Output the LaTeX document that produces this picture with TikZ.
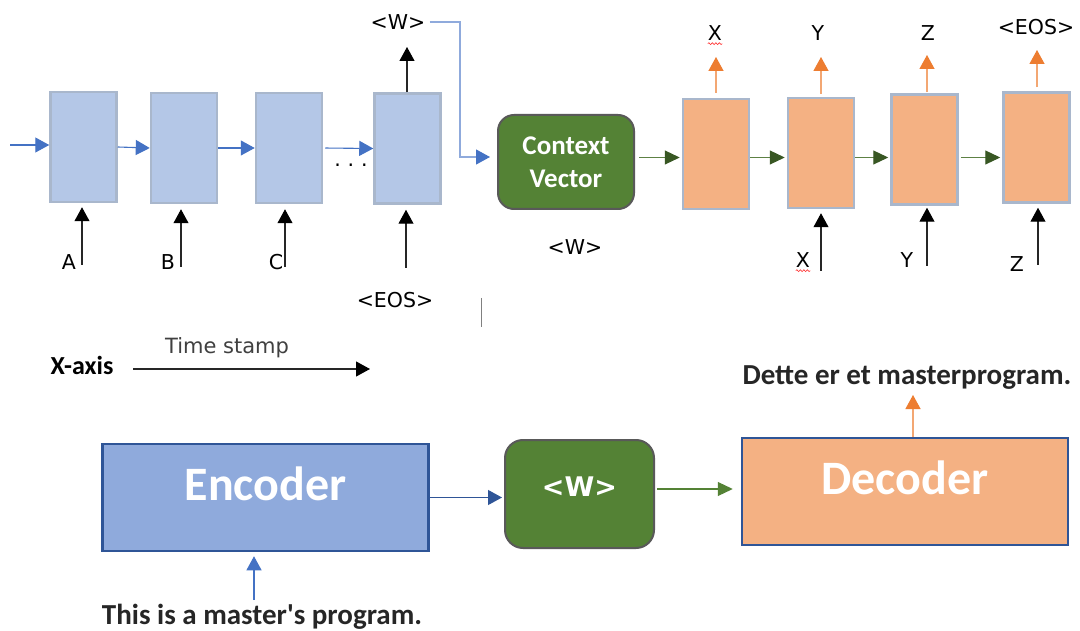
\documentclass[tikz,border=0pt]{standalone}
\usepackage{fontspec}
\setmainfont{Carlito}[Ligatures=TeXOff]
\newfontfamily\labfont{DejaVu Sans}
\usetikzlibrary{arrows.meta,decorations.pathmorphing}
\definecolor{encfill}{HTML}{B4C7E7}
\definecolor{cellbord}{HTML}{A9B7CC}
\definecolor{decfill}{HTML}{F4B183}
\definecolor{blueA}{HTML}{4472C4}
\definecolor{blueL}{HTML}{8FAADC}
\definecolor{blueD}{HTML}{2F5597}
\definecolor{greenF}{HTML}{548235}
\definecolor{greenD}{HTML}{385723}
\definecolor{orangeA}{HTML}{ED7D31}
\definecolor{orangeL}{HTML}{F4B183}
\definecolor{boxgray}{HTML}{595959}
\definecolor{txtdark}{HTML}{262626}
\definecolor{tsgray}{HTML}{404040}
\begin{document}
\begin{tikzpicture}[x=1pt,y=-1pt,
  cell/.style={draw=cellbord, line width=2.5pt, minimum width=66pt, minimum height=110pt, inner sep=0pt},
  enccell/.style={cell, fill=encfill},
  deccell/.style={cell, fill=decfill},
  rbox/.style={draw=boxgray, line width=2pt, fill=greenF, inner sep=0pt, text=white},
  bigbox/.style={draw=blueD, line width=2.5pt, inner sep=0pt, text=white,
    minimum width=326pt, minimum height=107pt, text height=33pt, text depth=27pt,
    font=\fontsize{48}{56}\selectfont\bfseries},
  lbl/.style={inner sep=0pt, font=\labfont\fontsize{20.5}{25}\selectfont, text=black},
  boldtxt/.style={inner sep=0pt, font=\fontsize{29}{34}\selectfont\bfseries, text=txtdark},
  karrow/.style={draw=black!85, line width=1.1pt, -{Triangle[width=15pt,length=14pt,color=black]}},
  barrow/.style={draw=blueA, line width=1.1pt, -{Triangle[width=15pt,length=14pt,color=blueA]}},
  lbarrow/.style={draw=blueL, line width=1.1pt, -{Triangle[width=15pt,length=14pt,color=blueA]}},
  darrow/.style={draw=blueD, line width=1.1pt, -{Triangle[width=15pt,length=14pt,color=blueD]}},
  garrow/.style={draw=greenF!80!gray, line width=1.1pt, -{Triangle[width=14pt,length=15pt,color=greenD]}},
  g2arrow/.style={draw=greenF, line width=1.1pt, -{Triangle[width=14pt,length=15pt,color=greenF]}},
  oarrow/.style={draw=orangeL!80!orangeA, line width=1.3pt, -{Triangle[width=15pt,length=14pt,color=orangeA]}},
  squig/.style={draw=red!80, line width=0.6pt, decorate, decoration={snake, amplitude=0.9pt, segment length=3.5pt}}
]
\fill[white] (0,0) rectangle (1080,631);
\useasboundingbox (0,0) rectangle (1080,631);

% ---------- top encoder ----------
\node[enccell] (e1) at (83.5,147) {};
\node[enccell] (e2) at (184,148) {};
\node[enccell] (e3) at (289,148) {};
\node[enccell] (e4) at (407.5,148.5) {};
\coordinate (in0) at (10,145);
\draw[barrow] (in0) -- (in0 -| e1.west);
\draw[barrow] (e1.east) -- (e2.west);
\draw[barrow] (e2.east) -- (e3.west);
\draw[barrow, shorten <=2pt] (e3.east) -- (e4.west);
\node[lbl, anchor=base] (dots) at (351,167) {.\,\,.\,\,.};

\coordinate (ia) at (82,265);
\coordinate (ib) at (181,267);
\coordinate (ic) at (285,267);
\coordinate (ie) at (406,268);
\draw[karrow, shorten >=4pt] (ia) -- (ia |- e1.south);
\draw[karrow, shorten >=5pt] (ib) -- (ib |- e2.south);
\draw[karrow, shorten >=5pt] (ic) -- (ic |- e3.south);
\draw[karrow, shorten >=5pt] (ie) -- (ie |- e4.south);
\node[lbl] (la) at (69,262) {A};
\node[lbl] (lb) at (168,262) {B};
\node[lbl] (lc) at (276,262) {C};
\node[lbl] (leos) at (395,300) {<EOS>};

\coordinate (t4) at (407,47);
\draw[karrow] (e4.north -| t4) -- (t4);
\node[lbl] (wtop) at (398,22) {<W>};

% ---------- context vector ----------
\node[rbox, rounded corners=16pt, minimum width=136pt, minimum height=94pt, align=center,
  font=\fontsize{27}{33}\selectfont\bfseries] (cv) at (566,162) {Context\\Vector};
\coordinate (bend) at (460,157);
\draw[lbarrow, shorten >=7pt] ([xshift=4pt]wtop.east) -| (bend) -- (bend -| cv.west);
\node[lbl] (wmid) at (575,247) {<W>};
\coordinate (v1) at (481,298);
\coordinate (v2) at (481,327);
\draw[draw=gray, line width=1pt] (v1) -- (v2);

% ---------- top decoder ----------
\node[deccell] (d1) at (716,154) {};
\node[deccell] (d2) at (821,153) {};
\node[deccell] (d3) at (924.5,149.5) {};
\node[deccell] (d4) at (1036.5,147.5) {};
\coordinate (gy) at (0,157.5);
\draw[garrow, shorten <=4pt, shorten >=2pt] (cv.east |- gy) -- (d1.west |- gy);
\draw[garrow, shorten >=2pt] (d1.east |- gy) -- (d2.west |- gy);
\draw[garrow, shorten >=2pt] (d2.east |- gy) -- (d3.west |- gy);
\draw[garrow, shorten <=2pt, shorten >=2pt] (d3.east |- gy) -- (d4.west |- gy);

\coordinate (o1) at (716,57);
\coordinate (o2) at (821,57);
\coordinate (o3) at (927,55);
\coordinate (o4) at (1037,50);
\draw[oarrow, shorten <=5pt] (d1.north -| o1) -- (o1);
\draw[oarrow, shorten <=3pt] (d2.north -| o2) -- (o2);
\draw[oarrow, shorten <=1pt] (d3.north -| o3) -- (o3);
\draw[oarrow, shorten <=4pt] (d4.north -| o4) -- (o4);
\node[lbl] (ox) at (715,33) {X};
\node[lbl] (oy) at (818,33) {Y};
\node[lbl] (oz) at (928,33) {Z};
\node[lbl] (oeos) at (1036,27) {<EOS>};
\draw[squig] ([yshift=-3pt]ox.south west) -- ([yshift=-3pt]ox.south east);

\coordinate (ix) at (821,271);
\coordinate (iy) at (927,266);
\coordinate (iz) at (1038,265);
\draw[karrow, shorten >=4pt] (ix) -- (ix |- d2.south);
\draw[karrow, shorten >=2pt] (iy) -- (iy |- d3.south);
\draw[karrow, shorten >=4pt] (iz) -- (iz |- d4.south);
\node[lbl] (ux) at (803,260) {X};
\node[lbl] (uy) at (907,260) {Y};
\node[lbl] (uz) at (1017,264) {Z};
\draw[squig] ([yshift=-3pt]ux.south west) -- ([yshift=-3pt]ux.south east);

% ---------- time axis ----------
\node[inner sep=0pt, font=\fontsize{26}{30}\selectfont\bfseries] (xaxis) at (82,365) {X-axis};
\node[lbl, text=tsgray, font=\labfont\fontsize{21}{25}\selectfont] (ts) at (227,348) {Time stamp};
\coordinate (ta0) at (133,369);
\coordinate (ta1) at (370,369);
\draw[karrow] (ta0) -- (ta1);

% ---------- bottom summary ----------
\node[bigbox, fill=blueL] (enc) at (265.5,497.5) {Encoder};
\node[rbox, rounded corners=18pt, minimum width=149pt, minimum height=108pt,
  text height=22pt, text depth=18pt, font=\labfont\fontsize{27}{32}\selectfont\bfseries] (wbox) at (579.5,494) {<W>};
\node[bigbox, fill=decfill] (dec) at (905,491.5) {Decoder};

\draw[darrow, shorten >=2pt] (enc.east) -- (enc.east -| wbox.west);
\coordinate (gy2) at (0,489);
\draw[g2arrow, shorten <=2pt, shorten >=8pt] (wbox.east |- gy2) -- (dec.west |- gy2);

\coordinate (ein) at (254,600);
\draw[barrow, shorten >=4pt] (ein) -- (ein |- enc.south);
\node[boldtxt] (src) at (262,617) {This is a master's program.};

\coordinate (dout) at (913,395);
\draw[oarrow] (dec.north -| dout) -- (dout);
\node[boldtxt] (tgt) at (907,378) {Dette er et masterprogram.};
\end{tikzpicture}
\end{document}
